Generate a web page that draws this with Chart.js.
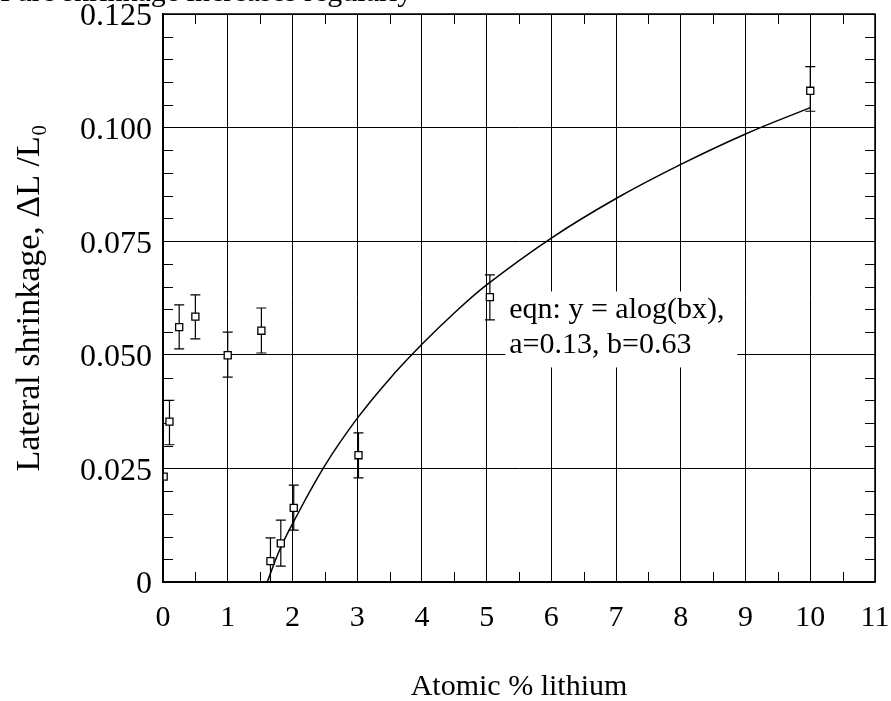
<!DOCTYPE html>
<html>
<head>
<meta charset="utf-8">
<script src="https://cdn.jsdelivr.net/npm/chart.js@4"></script>
<style>
  html, body { margin: 0; padding: 0; background: #fff; }
  #wrap { width: 891px; height: 701px; position: relative; }
</style>
</head>
<body>
<div id="wrap"><canvas id="shrinkageChart"></canvas></div>
<script>
// measured points (atomic % Li vs lateral shrinkage) with error bar ends
const lithiumPct = [0.01, 0.1, 0.25, 0.5, 1.0, 1.52, 1.66, 1.82, 2.02, 3.02, 5.05, 10.0];
const shrinkage  = [0.0232, 0.0353, 0.0561, 0.0584, 0.0499, 0.0553, 0.0046, 0.0085, 0.0163, 0.0279, 0.0627, 0.1081];
const errLow     = [null, 0.0302, 0.0513, 0.0535, 0.0451, 0.0504, 0.0000, 0.0035, 0.0114, 0.0229, 0.0577, 0.1036];
const errHigh    = [null, 0.0400, 0.0610, 0.0632, 0.0550, 0.0603, 0.0097, 0.0136, 0.0213, 0.0328, 0.0676, 0.1134];

// fitted curve
const fitX = [1.61, 1.8, 2, 2.5, 3, 3.5, 4, 4.5, 5, 6, 7, 8, 9, 10];
const fitY = [0.0, 0.0070, 0.0128, 0.0256, 0.0360, 0.0447, 0.0523, 0.0592, 0.0654, 0.0757, 0.0844, 0.0919, 0.0986, 0.1044];

const xTicks = [0, 1, 2, 3, 4, 5, 6, 7, 8, 9, 10, 11];
const yTicks = [0, 0.025, 0.05, 0.075, 0.1, 0.125];

const eqnLines = ['eqn: y = alog(bx),', 'a=0.13, b=0.63'];
const headerText = 'Pure shrinkage increases regularly';

const serif = "'Liberation Serif', 'Times New Roman', serif";

const extrasPlugin = {
  id: 'extras',
  beforeDatasetsDraw(chart) {
    const { ctx, chartArea: a, scales: { x, y } } = chart;
    ctx.save();
    ctx.strokeStyle = '#000';
    ctx.lineWidth = 1;

    // minor tick marks inside the frame
    ctx.beginPath();
    for (let v = 0.005; v < 0.125; v += 0.005) {
      const r = Math.round(v * 1000) / 1000;
      if (Math.abs(r / 0.025 - Math.round(r / 0.025)) < 1e-6) continue;
      const py = Math.round(y.getPixelForValue(r)) + 0.5;
      ctx.moveTo(a.left, py); ctx.lineTo(a.left + 10, py);
      ctx.moveTo(a.right, py); ctx.lineTo(a.right - 10, py);
    }
    for (let v = 0.5; v < 11; v += 1) {
      const px = Math.round(x.getPixelForValue(v)) + 0.5;
      ctx.moveTo(px, a.bottom); ctx.lineTo(px, a.bottom - 10);
      ctx.moveTo(px, a.top); ctx.lineTo(px, a.top + 10);
    }
    ctx.stroke();

    // equation label on a white box
    const lx = x.getPixelForValue(5.35);
    const ly = y.getPixelForValue(0.0635);
    ctx.fillStyle = '#fff';
    ctx.fillRect(lx - 4, ly - 2, 232, 76);
    ctx.fillStyle = '#000';
    ctx.font = '30px ' + serif;
    ctx.textBaseline = 'middle';
    ctx.textAlign = 'left';
    ctx.fillText(eqnLines[0], lx, ly + 17);
    ctx.fillText(eqnLines[1], lx, ly + 52);

    // error bars
    ctx.lineWidth = 1.2;
    ctx.beginPath();
    for (let i = 0; i < lithiumPct.length; i++) {
      if (errLow[i] == null) continue;
      const px = x.getPixelForValue(lithiumPct[i]);
      const y0 = y.getPixelForValue(errLow[i]);
      const y1 = y.getPixelForValue(errHigh[i]);
      ctx.moveTo(px, y0); ctx.lineTo(px, y1);
      ctx.moveTo(px - 5, y0); ctx.lineTo(px + 5, y0);
      ctx.moveTo(px - 5, y1); ctx.lineTo(px + 5, y1);
    }
    ctx.stroke();
    ctx.restore();
  },
  afterDraw(chart) {
    const { ctx, chartArea: a } = chart;
    ctx.save();
    ctx.strokeStyle = '#000';
    ctx.lineWidth = 1.5;
    ctx.strokeRect(a.left, a.top, a.right - a.left, a.bottom - a.top);
    // clipped line of text from the page above the figure
    ctx.fillStyle = '#000';
    ctx.font = '30px ' + serif;
    ctx.textBaseline = 'alphabetic';
    ctx.textAlign = 'left';
    ctx.fillText(headerText, 0, 1);
    ctx.restore();
  }
};

const ctx = document.getElementById('shrinkageChart');
new Chart(ctx, {
  type: 'scatter',
  data: {
    datasets: [
      {
        label: 'measured',
        data: lithiumPct.map((v, i) => ({ x: v, y: shrinkage[i] })),
        pointStyle: 'rect',
        pointRadius: 5,
        pointBorderWidth: 1.3,
        borderColor: '#000',
        backgroundColor: '#fff',
        clip: 0,
        order: 1
      },
      {
        label: 'fit',
        data: fitX.map((v, i) => ({ x: v, y: fitY[i] })),
        showLine: true,
        pointRadius: 0,
        borderColor: '#000',
        borderWidth: 1.5,
        tension: 0.4,
        order: 2
      }
    ]
  },
  options: {
    responsive: true,
    maintainAspectRatio: false,
    animation: false,
    layout: { padding: { top: 14, right: 16, left: 0, bottom: 0 } },
    plugins: {
      legend: { display: false },
      tooltip: { enabled: false }
    },
    scales: {
      x: {
        type: 'linear',
        min: 0,
        max: 11,
        afterBuildTicks: s => { s.ticks = xTicks.map(v => ({ value: v })); },
        afterFit: s => {
          s.height = 119;
          s.paddingLeft = 0;
          s.paddingRight = 0;
        },
        ticks: {
          color: '#000',
          padding: 18,
          maxRotation: 0,
          font: { family: serif, size: 30 },
          callback: v => String(v)
        },
        grid: { color: '#000', lineWidth: 1, drawTicks: false },
        border: { color: '#000', width: 1.5 },
        title: {
          display: true,
          text: 'Atomic % lithium',
          color: '#000',
          font: { family: serif, size: 30 },
          padding: { top: 0, bottom: -4 }
        }
      },
      y: {
        type: 'linear',
        min: 0,
        max: 0.125,
        afterBuildTicks: s => { s.ticks = yTicks.map(v => ({ value: v })); },
        afterFit: s => {
          s.width = 163;
          s.paddingTop = 0;
          s.paddingBottom = 0;
        },
        ticks: {
          color: '#000',
          padding: 11,
          labelOffset: 3,
          font: { family: serif, size: 32 },
          callback: v => (v === 0 ? '0' : v.toFixed(3))
        },
        grid: { color: '#000', lineWidth: 1, drawTicks: false },
        border: { color: '#000', width: 1.5 },
        title: {
          display: true,
          text: 'Lateral shrinkage, \u0394L /L\u2080',
          color: '#000',
          font: { family: serif, size: 34 },
          padding: { top: 10, bottom: 0 }
        }
      }
    }
  },
  plugins: [extrasPlugin]
});
</script>
</body>
</html>
